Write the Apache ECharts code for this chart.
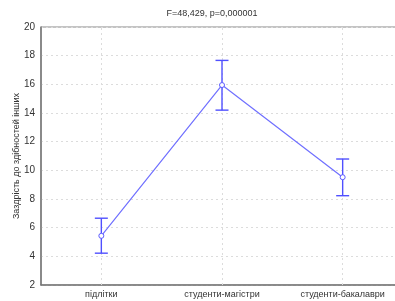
<!DOCTYPE html>
<html>
<head>
<meta charset="utf-8">
<script src="https://cdn.jsdelivr.net/npm/echarts@6/dist/echarts.min.js"></script>
<style>
	html, body { margin: 0; padding: 0; background: #fff; }
	#chart { width: 395px; height: 301px; }
</style>
</head>
<body>
<div id="chart"></div>
<script>
	var categories = ['підлітки', 'студенти-магістри', 'студенти-бакалаври'];
	var means = [5.43, 15.95, 9.52];
	var upper = [6.66, 17.67, 10.79];
	var lower = [4.22, 14.2, 8.23];
	var yTicks = [2, 4, 6, 8, 10, 12, 14, 16, 18, 20];

	var font = 'Liberation Sans, Arial, sans-serif';
	var chart = echarts.init(document.getElementById('chart'));

	var option = {
		animation: false,
		title: {
			text: 'F=48,429, p=0,000001',
			left: 207,
			top: 4,
			textAlign: 'center',
			textStyle: { fontSize: 9, fontWeight: 'normal', color: '#333', fontFamily: font }
		},
		grid: {
			left: 41,
			top: 27,
			right: -8,
			bottom: 16,
			containLabel: false,
			outerBoundsMode: 'none',
			show: true,
			borderColor: '#888',
			borderWidth: 1
		},
		xAxis: {
			type: 'category',
			data: categories,
			axisLine: { lineStyle: { color: '#777', width: 1.5 } },
			axisTick: { show: false },
			splitLine: { show: false },
			axisLabel: { fontSize: 9, color: '#333', fontFamily: font, margin: 5 }
		},
		yAxis: {
			type: 'value',
			min: yTicks[0],
			max: yTicks[yTicks.length - 1],
			interval: 2,
			name: 'Заздрість до здібностей інших',
			nameLocation: 'middle',
			nameGap: 20,
			nameMoveOverlap: false,
			nameTextStyle: { fontSize: 9, color: '#333', fontFamily: font },
			axisLine: { show: true, lineStyle: { color: '#777', width: 1.5 } },
			axisTick: { show: false },
			splitLine: { lineStyle: { color: '#dcdcdc', type: [2, 3] } },
			axisLabel: { fontSize: 10, color: '#333', fontFamily: font, margin: 6 }
		},
		series: [
			{
				type: 'line',
				data: means,
				symbol: 'circle',
				symbolSize: 5,
				itemStyle: { color: '#fff', borderColor: '#5a5aff', borderWidth: 1 },
				lineStyle: { color: '#7070ff', width: 1.2 },
				z: 4,
				markLine: {
					silent: true,
					symbol: 'none',
					label: { show: false },
					lineStyle: { color: '#dcdcdc', type: [2, 3], width: 1 },
					data: categories.map(function (c, i) { return { xAxis: i }; }),
					z: 1
				}
			},
			{
				type: 'custom',
				z: 3,
				data: categories.map(function (c, i) { return [i, lower[i], upper[i]]; }),
				renderItem: function (params, api) {
					var lo = api.coord([api.value(0), api.value(1)]);
					var hi = api.coord([api.value(0), api.value(2)]);
					var w = 6.5;
					var st = { stroke: '#5050ff', lineWidth: 1.4 };
					return {
						type: 'group',
						children: [
							{ type: 'line', shape: { x1: lo[0], y1: lo[1], x2: hi[0], y2: hi[1] }, style: st },
							{ type: 'line', shape: { x1: lo[0] - w, y1: lo[1], x2: lo[0] + w, y2: lo[1] }, style: st },
							{ type: 'line', shape: { x1: hi[0] - w, y1: hi[1], x2: hi[0] + w, y2: hi[1] }, style: st }
						]
					};
				}
			}
		]
	};
	chart.setOption(option);
</script>
</body>
</html>
